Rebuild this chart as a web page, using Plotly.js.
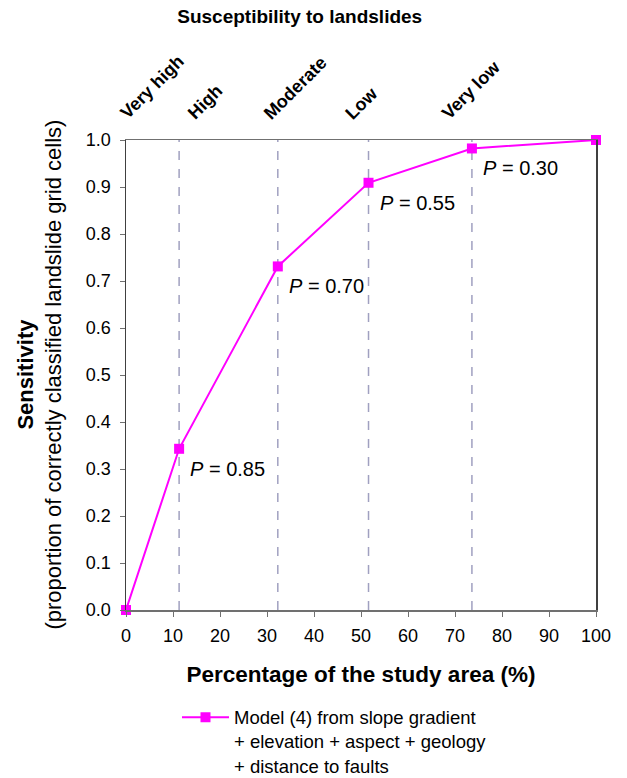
<!DOCTYPE html>
<html>
<head>
<meta charset="utf-8">
<script src="https://cdn.plot.ly/plotly-3.0.1.min.js"></script>
<style>html,body{margin:0;padding:0;background:#fff;}#chart{width:627px;height:778px;}</style>
</head>
<body>
<div id="chart"></div>
<script>
// Data
const areaPct = [0, 11.3, 32.3, 51.6, 73.6, 100];
const sensitivity = [0, 0.343, 0.731, 0.909, 0.982, 1.0];
const pValues = ['0.85', '0.70', '0.55', '0.30'];
const classes = ['Very high', 'High', 'Moderate', 'Low', 'Very low'];
const classLabelX = [5.6, 16.8, 36.0, 50.2, 73.4];
const seriesName = 'Model (4) from slope gradient<br>+ elevation + aspect + geology<br>+ distance to faults';
const xTicks = [0, 10, 20, 30, 40, 50, 60, 70, 80, 90, 100];
const yTicks = [0, 0.1, 0.2, 0.3, 0.4, 0.5, 0.6, 0.7, 0.8, 0.9, 1.0];

const FONT = 'Arial, "Liberation Sans", Helvetica, sans-serif';
const magenta = '#ff00ff';

const trace = {
  x: areaPct, y: sensitivity, type: 'scatter', mode: 'lines+markers',
  name: seriesName,
  line: {color: magenta, width: 2},
  marker: {symbol: 'square', size: 10, color: magenta},
  cliponaxis: false
};

const boundaries = areaPct.slice(1, areaPct.length - 1);
const shapes = boundaries.map(b => ({
  type: 'line', xref: 'x', yref: 'y', x0: b, x1: b, y0: 0, y1: 1,
  line: {color: '#a0a0c0', width: 1.5, dash: 'dash'}, layer: 'below'
}));

const annotations = [];
boundaries.forEach((b, i) => {
  annotations.push({
    x: b, y: sensitivity[i + 1], xref: 'x', yref: 'y', showarrow: false,
    text: '<i>P</i> = ' + pValues[i], xanchor: 'left', yanchor: 'middle',
    xshift: 9, yshift: -20, font: {family: FONT, size: 20, color: '#000'}
  });
});
classes.forEach((c, i) => {
  annotations.push({
    x: classLabelX[i], y: 1.03, xref: 'x', yref: 'paper', showarrow: false,
    text: '<b>' + c + '</b>', textangle: -45, xanchor: 'center', yanchor: 'bottom',
    font: {family: FONT, size: 18, color: '#000'}
  });
});
// y-axis title (two lines)
annotations.push({
  x: -0.184, y: 0.5, xref: 'paper', yref: 'paper', showarrow: false,
  text: '<b>Sensitivity</b><br>(proportion of correctly classified landslide grid cells)',
  textangle: -90, xanchor: 'center', yanchor: 'middle',
  font: {family: FONT, size: 22, color: '#000'}
});

const layout = {
  width: 627, height: 778,
  margin: {l: 126, r: 31, t: 140, b: 168, autoexpand: false},
  paper_bgcolor: '#fff', plot_bgcolor: '#fff',
  font: {family: FONT, size: 18, color: '#000'},
  title: {text: '<b>Susceptibility to landslides</b>', x: 0.478, xanchor: 'center', y: 0.979, yanchor: 'middle', yref: 'container',
    font: {family: FONT, size: 19, color: '#000'}},
  xaxis: {
    range: [0, 100], tickvals: xTicks, ticktext: xTicks.map(String),
    showgrid: false, zeroline: false, showline: true, linecolor: '#707070', linewidth: 1.5,
    mirror: true, ticks: 'outside', ticklen: 5, tickcolor: '#707070', tickfont: {size: 18},
    ticklabelstandoff: 4, automargin: false,
    title: {text: '<b>Percentage of the study area (%)</b>', font: {size: 22.5}, standoff: 21}
  },
  yaxis: {
    range: [0, 1], tickvals: yTicks, ticktext: yTicks.map(v => v.toFixed(1)),
    showgrid: false, zeroline: false, showline: true, linecolor: '#404040', linewidth: 1.5,
    mirror: true, ticks: 'outside', ticklen: 5, tickcolor: '#707070', tickfont: {size: 18},
    ticklabelstandoff: 5, automargin: false
  },
  showlegend: true,
  legend: {x: 0.1085, y: -0.1887, xanchor: 'left', yanchor: 'top', valign: 'top',
    font: {size: 18.5}, itemwidth: 47, bgcolor: 'rgba(0,0,0,0)'},
  shapes: shapes,
  annotations: annotations
};

Plotly.newPlot('chart', [trace], layout, {displayModeBar: false, staticPlot: true});
</script>
</body>
</html>
